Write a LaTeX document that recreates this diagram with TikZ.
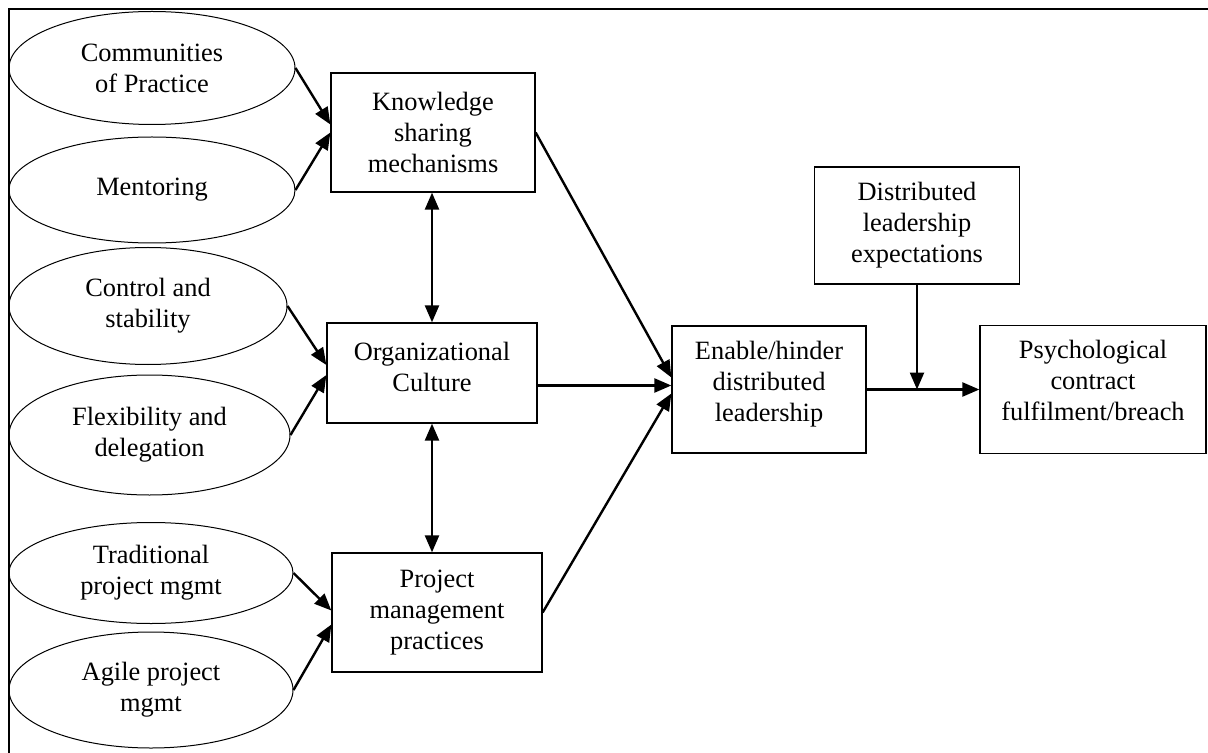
\documentclass[tikz,border=0pt]{standalone}
\usepackage{fontspec}
\setmainfont{Liberation Serif}
\usetikzlibrary{calc,arrows.meta,shapes.geometric}

\begin{document}
\begin{tikzpicture}[x=0.5pt,y=-0.5pt,
	font=\fontsize{13.2}{15.5}\selectfont,
	oval/.style={draw,ellipse,line width=0.5pt,inner sep=0pt,align=center},
	block/.style={draw,rectangle,line width=0.65pt,inner sep=0pt,align=center},
	link/.style={line width=1.2pt,-{Triangle[length=8.5pt,width=7pt]}},
	twoway/.style={line width=1.2pt,{Triangle[length=8.5pt,width=7pt]}-{Triangle[length=8.5pt,width=7pt]}}]

% canvas %{{{2

	\useasboundingbox (0,0) rectangle (1208,753);
	\coordinate (corner) at (9,9);
	\draw[line width=1pt] (corner |- 0,753) -- (corner) -- (1208,9);

% ellipses %{{{2

	\node[oval,minimum width=143pt,minimum height=56.5pt] (cop) at (152,68) {Communities\\of Practice};
	\node[oval,minimum width=143pt,minimum height=53pt] (mentor) at (152,190) {Mentoring};
	\node[oval,minimum width=139pt,minimum height=58.5pt] (control) at (148,306) {Control and\\stability};
	\node[oval,minimum width=140.5pt,minimum height=60pt] (flex) at (149.5,435) {Flexibility and\\delegation};
	\node[oval,minimum width=142pt,minimum height=50.5pt] (trad) at (151,573) {Traditional\\project mgmt};
	\node[oval,minimum width=142pt,minimum height=58pt] (agile) at (151,690) {Agile project\\mgmt};

% boxes %{{{2

	\node[block,minimum width=102pt,minimum height=59.5pt] (ks) at (433,132.5) {Knowledge\\sharing\\mechanisms};
	\node[block,minimum width=105pt,minimum height=50pt,text depth=6pt] (oc) at (432,373) {Organizational\\Culture};
	\node[block,minimum width=105pt,minimum height=59.5pt] (pm) at (437,612.5) {Project\\management\\practices};
	\node[block,minimum width=97pt,minimum height=63.5pt,text depth=8.5pt] (eh) at (769,389.5) {Enable/hinder\\distributed\\leadership};
	\node[block,minimum width=102.5pt,minimum height=58.5pt] (dl) at (917,225.5) {Distributed\\leadership\\expectations};
	\node[block,minimum width=113pt,minimum height=64pt,text depth=9pt] (pc) at (1093,389.5) {Psychological\\contract\\fulfilment/breach};

% entry points %{{{2

	\coordinate (in1) at ($(eh.west)+(0,-12)$);
	\coordinate (in2) at ($(eh.west)+(0,-4)$);
	\coordinate (in3) at ($(eh.west)+(0,4)$);
	\coordinate (meet) at (dl.south |- eh.east);

% arrows %{{{2

	\draw[link] (cop.east) -- ($(ks.west)+(0,-8)$);
	\draw[link] (mentor.east) -- (ks.west);
	\draw[link] (control.east) -- ($(oc.west)+(0,-8)$);
	\draw[link] (flex.east) -- ($(oc.west)+(0,2)$);
	\draw[link] (trad.east) -- ($(pm.west)+(0,-2)$);
	\draw[link] (agile.east) -- ($(pm.west)+(0,12)$);

	\draw[twoway] (oc.north |- ks.south) -- (oc.north);
	\draw[twoway] (oc.south) -- (oc.south |- pm.north);

	\draw[link] (ks.east) -- (in1);
	\draw[link] (oc.east |- in2) -- (in2);
	\draw[link] (pm.east) -- (in3);

	\draw[link] (eh.east) -- (pc.west);
	\draw[link] (dl.south) -- (meet);

% closing %{{{2

\end{tikzpicture}
\end{document}
